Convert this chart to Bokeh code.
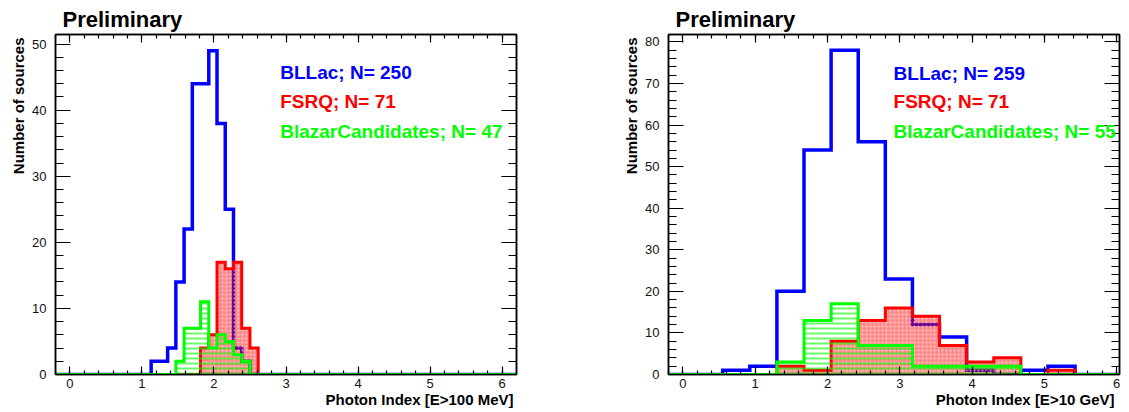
from bokeh.plotting import figure
from bokeh.layouts import row
from bokeh.models import Label, LinearAxis, Range1d, SingleIntervalTicker, Title
from bokeh.embed import file_html
from bokeh.resources import INLINE

# ---------------- data ----------------
# Left panel: photon index for E>100 MeV (bin width ~0.114)
left_bin_width = 0.1143
left_first_edge = 1.128
left_blue = [2, 2, 4, 14, 22, 44, 44, 49, 38, 25, 4, 2, 0]
left_red = [0, 0, 0, 0, 0, 0, 4, 6, 17, 16, 17, 7, 4]
left_green = [0, 0, 0, 2, 7, 7, 11, 4, 6, 5, 3, 2, 0]
left_labels = ["BLLac; N= 250", "FSRQ; N= 71", "BlazarCandidates; N= 47"]
left_xtitle = "Photon Index [E>100 MeV]"

# Right panel: photon index for E>10 GeV (bin width 0.375)
right_bin_width = 0.375
right_first_edge = -0.2
right_blue = [0, 0, 1, 2, 20, 54, 78, 56, 23, 12, 9, 1, 0, 1, 2, 0, 0]
right_red = [0, 0, 0, 0, 2, 1, 8, 13, 16, 14, 7, 3, 4, 0, 1, 0, 0]
right_green = [0, 0, 0, 0, 3, 13, 17, 7, 7, 2, 2, 2, 2, 0, 0, 0, 0]
right_labels = ["BLLac; N= 259", "FSRQ; N= 71", "BlazarCandidates; N= 55"]
right_xtitle = "Photon Index [E>10 GeV]"

y_title = "Number of sources"
panel_title = "Preliminary"
series_colors = ["#0000ff", "#ff0000", "#00ff00"]

FONT = "Liberation Sans"


def style_axis(ax, tick_in, minor_in, show_labels, standoff=5):
    ax.axis_line_color = "black"
    ax.axis_line_width = 1.5
    ax.major_tick_line_color = "black"
    ax.minor_tick_line_color = "black"
    ax.major_tick_line_width = 1.2
    ax.minor_tick_line_width = 1.2
    ax.major_tick_in = tick_in
    ax.major_tick_out = 0
    ax.minor_tick_in = minor_in
    ax.minor_tick_out = 0
    ax.major_label_text_font = FONT
    if show_labels:
        ax.major_label_text_color = "#111111"
        ax.major_label_text_font_size = "13px"
        ax.major_label_standoff = standoff
    else:
        ax.major_label_text_color = None
        ax.major_label_standoff = 0


def axis_title(text, standoff, offset):
    return Title(text=text, align="right", text_font=FONT, text_font_style="bold",
                 text_font_size="15px", text_color="black", standoff=standoff,
                 offset=offset)


def edges_of(first_edge, bw, counts):
    return [first_edge + i * bw for i in range(len(counts) + 1)]


def panel(width, bl, br, x_end, y_end, first_edge, bw, blue, red, green,
          labels, xtitle, legend_x, legend_ys, xoff):
    p = figure(width=width, height=412, x_range=Range1d(-0.2, x_end),
               y_range=Range1d(0, y_end), output_backend="svg",
               toolbar_location=None, min_border_left=bl, min_border_right=br,
               min_border_top=34, min_border_bottom=38,
               x_axis_location=None, y_axis_location=None, title=panel_title)
    p.grid.visible = False
    p.outline_line_color = "black"
    p.outline_line_width = 1.5
    p.background_fill_color = "white"
    p.border_fill_color = "white"

    p.title.text_font = FONT
    p.title.text_font_style = "bold"
    p.title.text_font_size = "22px"
    p.title.text_color = "black"
    p.title.align = "left"
    p.title.offset = 7
    p.title.standoff = 5

    xt = SingleIntervalTicker(interval=1, num_minor_ticks=5)
    yt = SingleIntervalTicker(interval=10, num_minor_ticks=5)
    xb = LinearAxis(ticker=xt)
    style_axis(xb, 8, 4, True, 4)
    p.add_layout(xb, "below")
    p.add_layout(axis_title(xtitle, -4, xoff), "below")
    xa = LinearAxis(ticker=xt)
    style_axis(xa, 8, 4, False)
    p.add_layout(xa, "above")
    yl = LinearAxis(ticker=yt)
    style_axis(yl, 15, 8, True, 9)
    p.add_layout(yl, "left")
    p.add_layout(axis_title(y_title, 6, 3), "left")
    yr = LinearAxis(ticker=yt)
    style_axis(yr, 15, 8, False)
    p.add_layout(yr, "right")

    edges = edges_of(first_edge, bw, blue)
    lefts, rights = edges[:-1], edges[1:]
    xs = [-0.5] + edges + [x_end + 0.5]

    # blue outline (drawn first, below the red fill)
    p.step(xs, [0] + list(blue) + [0, 0], mode="after", line_color=series_colors[0],
           line_width=3.5, line_join="miter")

    # red filled histogram
    p.quad(left=lefts, right=rights, top=red, bottom=0, fill_color="#ff0000",
           fill_alpha=0.45, line_color=None, hatch_pattern="dot",
           hatch_color="white", hatch_alpha=0.55, hatch_scale=4, hatch_weight=1)
    p.step(xs, [0] + list(red) + [0, 0], mode="after", line_color=series_colors[1],
           line_width=3, line_join="miter")

    # green hatched histogram
    p.quad(left=lefts, right=rights, top=green, bottom=0, fill_alpha=0,
           line_color=None, hatch_pattern="horizontal_line", hatch_color="#00ff00",
           hatch_alpha=0.6, hatch_scale=5, hatch_weight=2)
    p.step(xs, [0] + list(green) + [0, 0], mode="after", line_color=series_colors[2],
           line_width=3, line_join="miter")

    for txt, col, yy in zip(labels, series_colors, legend_ys):
        p.add_layout(Label(x=legend_x, y=yy, text=txt, text_color=col,
                           text_font=FONT, text_font_style="bold",
                           text_font_size="19px", text_baseline="middle"))
    return p


p1 = panel(560, 55, 44, 6.2, 51.45, left_first_edge, left_bin_width,
           left_blue, left_red, left_green, left_labels, left_xtitle,
           2.92, [45.65, 41.25, 36.7], 3)
p2 = panel(569, 108, 10, 6.04, 81.8, right_first_edge, right_bin_width,
           right_blue, right_red, right_green, right_labels, right_xtitle,
           2.914, [72.5, 65.6, 58.35], 5)

layout = row(p1, p2)
open("out.html", "w").write(file_html(layout, INLINE))
